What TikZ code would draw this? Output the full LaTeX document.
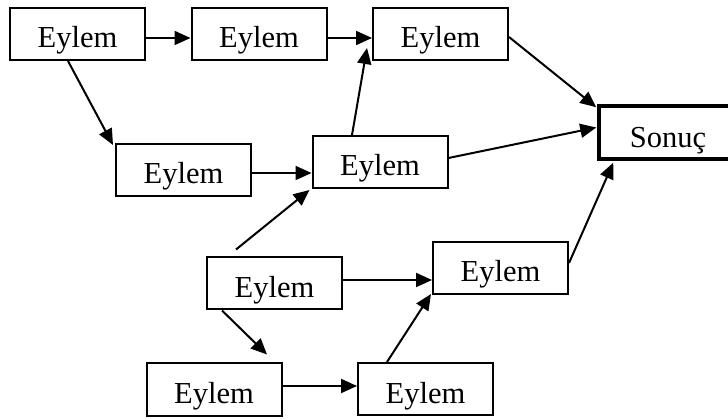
\documentclass[tikz,border=0pt]{standalone}
\usepackage{fontspec}
\setmainfont{Liberation Serif}
\usetikzlibrary{calc,arrows.meta}

\tikzset{
  stepbox/.style={draw, line width=2pt, rectangle, inner sep=0pt,
    minimum width=135pt, minimum height=52pt,
    text height=28pt, text depth=0pt,
    font=\fontsize{30.5}{36}\selectfont},
  resultbox/.style={stepbox, line width=3.5pt, minimum width=138pt,
    minimum height=53pt, text height=30pt},
  flow/.style={line width=2pt, -{Triangle[length=16pt,width=14pt]}}
}

\begin{document}
\begin{tikzpicture}[x=1pt, y=-1pt]
  \useasboundingbox (0,0) rectangle (728,419);

  % boxes (centres, y measured downwards)
  \node[stepbox] (n1) at (77.5,34) {Eylem};
  \node[stepbox] (n2) at (259,34) {Eylem};
  \node[stepbox] (n3) at (440.5,34) {Eylem};
  \node[stepbox] (n4) at (183.5,170) {Eylem};
  \node[stepbox] (n5) at (380,162) {Eylem};
  \node[resultbox] (s) at (668,132.5) {Sonuç};
  \node[stepbox] (n7) at (274.5,283.5) {Eylem};
  \node[stepbox] (n8) at (500.5,268) {Eylem};
  \node[stepbox] (n9) at (214,389.5) {Eylem};
  \node[stepbox] (n10) at (425.5,389) {Eylem};

  % connectors
  \draw[flow] ($(n1.east)+(0,4)$) -- ($(n2.west)+(0,4)$);
  \draw[flow] ($(n2.east)+(0,4)$) -- ($(n3.west)+(0,4)$);
  \draw[flow] ($(n1.south)+(-9.5,0)$) -- ($(n4.north west)+(-2,2)$);
  \draw[flow] ($(n4.east)+(0,3)$) -- ($(n5.west)+(0,11)$);
  \draw[flow] ($(n5.north)+(-28,0)$) -- ($(n3.south west)+(-5,-13)$);
  \draw[flow] ($(n3.east)+(0,3)$) -- ($(s.north west)+(-1,3)$);
  \draw[flow] ($(n5.east)+(0,-4)$) -- ($(s.west)+(-1,-5)$);
  \draw[flow] ($(n7.north)+(-38.5,-7)$) -- ($(n5.south west)+(-2,1)$);
  \draw[flow] ($(n7.south)+(-52.5,0)$) -- ($(n9.north)+(53,-8)$);
  \draw[flow] ($(n7.east)+(0,-3.5)$) -- ($(n8.west)+(0,12)$);
  \draw[flow] ($(n9.east)+(0,-3.5)$) -- ($(n10.west)+(0,-3)$);
  \draw[flow] ($(n10.north)+(-38.5,0)$) -- ($(n8.south west)+(-1,-1)$);
  \draw[flow] ($(n8.east)+(0,-5)$) -- ($(s.south west)+(16,2)$);
\end{tikzpicture}
\end{document}
